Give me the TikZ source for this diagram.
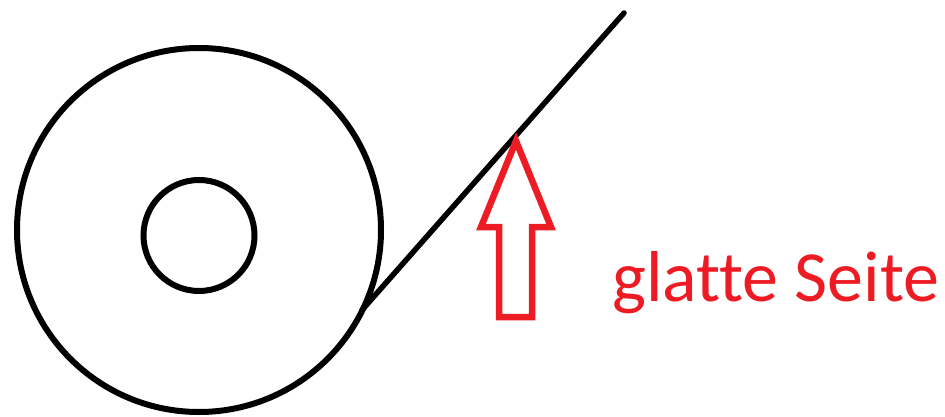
\documentclass[tikz,border=0pt]{standalone}
\usepackage{fontspec}
\setmainfont[Ligatures=NoCommon]{Carlito}
\definecolor{paintred}{HTML}{ED1C24}
\begin{document}
\begin{tikzpicture}[x=1pt,y=-1pt,
  ring/.style={draw=black,line width=6pt,circle,inner sep=0pt},
  tape/.style={draw=black,line width=5.5pt,line cap=round},
  hollowarrow/.style={draw=paintred,line width=6.5pt,line join=miter},
  label/.style={text=paintred,font=\fontsize{72}{80}\selectfont,inner sep=0pt}]
\useasboundingbox (0,0) rectangle (945,417);
\node[ring,minimum size=364pt] (outer) at (199,230) {};
\node[ring,minimum size=111pt] (inner) at (199,235.5) {};
\coordinate (tapestart) at (362,310);
\coordinate (tapeend) at (624,13);
\draw[tape] (tapestart) -- (tapeend);
\draw[hollowarrow] (516,141) -- (551,227) -- (532,227) -- (532,317) -- (499,317) -- (499,227) -- (481,227) -- cycle;
\node[label,anchor=base west] (lbl) at (612,301) {glatte Seite};
\end{tikzpicture}
\end{document}
